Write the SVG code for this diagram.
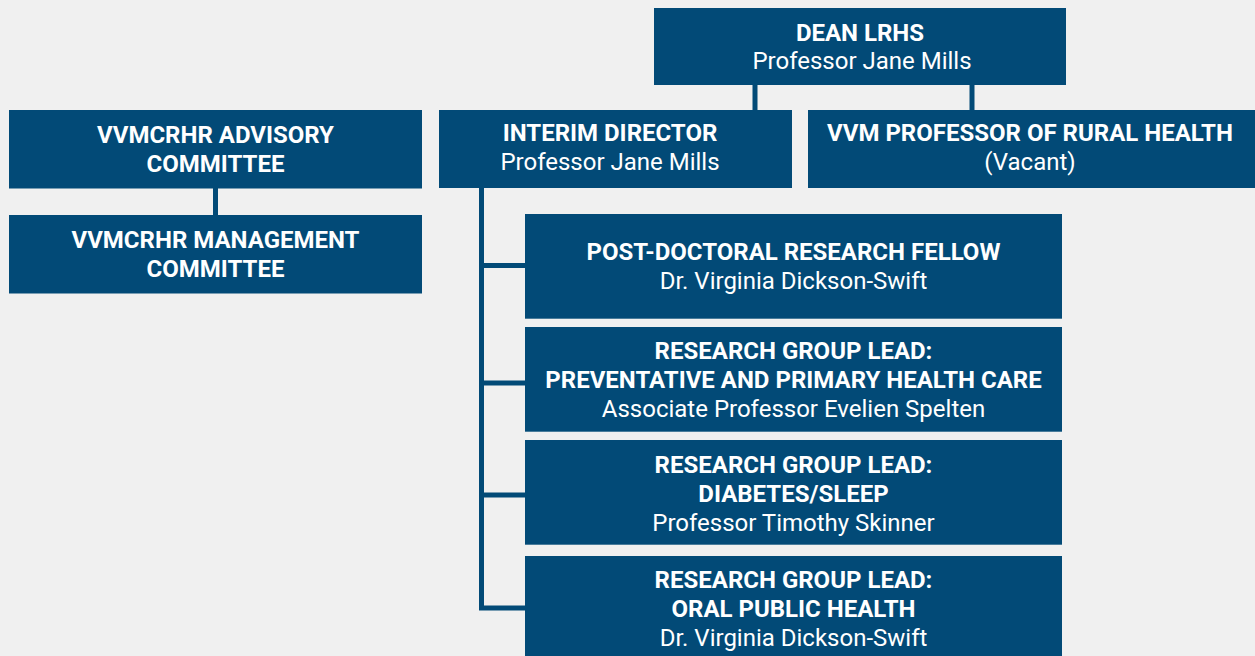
<svg xmlns="http://www.w3.org/2000/svg" width="1255" height="656" viewBox="0 0 1255 656">
<style>
.box{fill:#024a77}
.t{font-family:Roboto,"Liberation Sans",sans-serif;font-size:24px;fill:#ffffff;text-anchor:middle}
.b{font-weight:bold}
.c{fill:none;stroke:#024a77;stroke-width:5}
</style>
<rect width="1255" height="656" fill="#f0f0f0"/>
<g id="connectors">
<line class="c" x1="755" y1="85" x2="755" y2="110"/>
<line class="c" x1="972" y1="85" x2="972" y2="110"/>
<line class="c" x1="215.5" y1="188" x2="215.5" y2="215"/>
<path class="c" d="M481.5 188 V608 M479 265.5 H525 M479 383 H525 M479 495 H525 M479 608 H525"/>
</g>
<g id="dean">
<rect class="box" x="654" y="8" width="412" height="77"/>
<text class="t b" x="860" y="41">DEAN LRHS</text>
<text class="t" x="862" y="69">Professor Jane Mills</text>
</g>
<g id="interim">
<rect class="box" x="439" y="110" width="353" height="78"/>
<text class="t b" x="610" y="141">INTERIM DIRECTOR</text>
<text class="t" x="610" y="170">Professor Jane Mills</text>
</g>
<g id="vvmprof">
<rect class="box" x="808" y="110" width="447" height="78"/>
<text class="t b" x="1030" y="141">VVM PROFESSOR OF RURAL HEALTH</text>
<text class="t" x="1030" y="170">(Vacant)</text>
</g>
<g id="advisory">
<rect class="box" x="9" y="110" width="413" height="78.5"/>
<text class="t b" x="215.5" y="143">VVMCRHR ADVISORY</text>
<text class="t b" x="215.5" y="172">COMMITTEE</text>
</g>
<g id="management">
<rect class="box" x="9" y="215" width="413" height="78.5"/>
<text class="t b" x="215.5" y="248">VVMCRHR MANAGEMENT</text>
<text class="t b" x="215.5" y="277">COMMITTEE</text>
</g>
<g id="postdoc">
<rect class="box" x="525" y="214" width="537" height="104.7"/>
<text class="t b" x="793.5" y="260">POST-DOCTORAL RESEARCH FELLOW</text>
<text class="t" x="793.5" y="289">Dr. Virginia Dickson-Swift</text>
</g>
<g id="lead-preventative">
<rect class="box" x="525" y="327" width="537" height="104.7"/>
<text class="t b" x="793.5" y="359">RESEARCH GROUP LEAD:</text>
<text class="t b" x="793.5" y="388">PREVENTATIVE AND PRIMARY HEALTH CARE</text>
<text class="t" x="793.5" y="417">Associate Professor Evelien Spelten</text>
</g>
<g id="lead-diabetes">
<rect class="box" x="525" y="440" width="537" height="104.7"/>
<text class="t b" x="793.5" y="473">RESEARCH GROUP LEAD:</text>
<text class="t b" x="793.5" y="502">DIABETES/SLEEP</text>
<text class="t" x="793.5" y="531">Professor Timothy Skinner</text>
</g>
<g id="lead-oral">
<rect class="box" x="525" y="556" width="537" height="110"/>
<text class="t b" x="793.5" y="588">RESEARCH GROUP LEAD:</text>
<text class="t b" x="793.5" y="617">ORAL PUBLIC HEALTH</text>
<text class="t" x="793.5" y="646">Dr. Virginia Dickson-Swift</text>
</g>
</svg>
